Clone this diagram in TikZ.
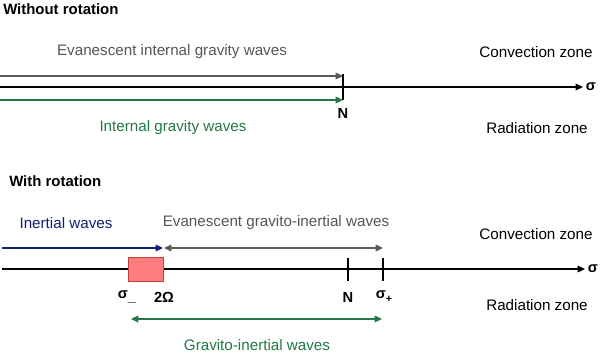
\documentclass[tikz,border=0pt]{standalone}
\usepackage{fontspec}
\setmainfont{Liberation Sans}
\usetikzlibrary{arrows.meta}
\definecolor{arrgray}{RGB}{90,90,90}
\definecolor{txtgray}{RGB}{85,85,85}
\definecolor{wgreen}{RGB}{35,120,70}
\definecolor{wblue}{RGB}{20,30,115}
\definecolor{rfill}{RGB}{255,125,125}
\definecolor{rdraw}{RGB}{205,60,60}
\begin{document}
\begin{tikzpicture}[x=0.75pt,y=-0.75pt,
  lbl/.style={font=\fontsize{11.4}{13}\selectfont,inner sep=0pt,anchor=center},
  ttl/.style={font=\fontsize{11.2}{13}\selectfont\bfseries,inner sep=0pt,anchor=west},
  tick/.style={font=\fontsize{11}{13}\selectfont\bfseries,inner sep=0pt,anchor=center},
  tip/.style={-{Triangle[length=5.5pt,width=5pt]}},
  dtip/.style={{Triangle[length=5.5pt,width=5pt]}-{Triangle[length=5.5pt,width=5pt]}},
  axisline/.style={line width=0.8pt,black},
  wline/.style={line width=0.9pt}]
\useasboundingbox (0,0) rectangle (600,353);
% ---------- Without rotation ----------
\node[ttl] (t1) at (3,9) {Without rotation};
\node[lbl,text=txtgray] (eigw) at (172,52) {Evanescent internal gravity waves};
\node[lbl] (cz1) at (536,52) {Convection zone};
\node[lbl,text=wgreen] (igw) at (173,128) {Internal gravity waves};
\node[lbl] (rz1) at (537,128) {Radiation zone};
\coordinate (g1s) at (0,76);
\coordinate (g1e) at (343,76);
\coordinate (a1s) at (0,87);
\coordinate (a1e) at (583,87);
\coordinate (gr1s) at (0,100);
\coordinate (gr1e) at (343,100);
\coordinate (n1t) at (343,74);
\coordinate (n1b) at (343,100);
\node[tick] (sig1) at (591,87) {σ};
\node[tick] (N1) at (343,113) {N};
\draw[axisline,tip] (a1s) -- (a1e);
\draw[wline,arrgray,tip] (g1s) -- (g1e);
\draw[wline,wgreen,tip] (gr1s) -- (gr1e);
\draw[axisline] (n1t) -- (n1b);
% ---------- With rotation ----------
\node[ttl] (t2) at (9,181) {With rotation};
\node[lbl,text=wblue] (iw) at (66,223) {Inertial waves};
\node[lbl,text=txtgray] (egiw) at (276,223) {Evanescent gravito-inertial waves};
\node[lbl] (cz2) at (536,234) {Convection zone};
\node[lbl] (rz2) at (537,305) {Radiation zone};
\node[lbl,text=wgreen] (giw) at (257,345) {Gravito-inertial waves};
\coordinate (a2s) at (2,269);
\coordinate (a2e) at (585,269);
\draw[axisline,tip] (a2s) -- (a2e);
\node[draw=rdraw,fill=rfill,line width=0.6pt,minimum width=26.25pt,minimum height=18pt,inner sep=0pt] (box) at (146,269) {};
\coordinate (bls) at (2,248);
\coordinate (ble) at (163,248);
\coordinate (grs) at (164,248);
\coordinate (gre) at (383,248);
\coordinate (n2t) at (348,258);
\coordinate (n2b) at (348,281);
\coordinate (sp2t) at (383,258);
\coordinate (sp2b) at (383,281);
\coordinate (gis) at (131,319);
\coordinate (gie) at (382,319);
\draw[wline,wblue,tip] (bls) -- (ble);
\draw[wline,arrgray,dtip] (grs) -- (gre);
\draw[axisline] (n2t) -- (n2b);
\draw[axisline] (sp2t) -- (sp2b);
\draw[wline,wgreen,dtip] (gis) -- (gie);
\node[tick] (sig2) at (593,269) {σ};
\node[tick] (sm) at (127,297) {σ\raisebox{-2pt}{\_}};
\node[tick] (tw) at (164,297) {2Ω};
\node[tick] (N2) at (348,297) {N};
\node[tick] (sp) at (384,297) {σ\raisebox{-3pt}{\fontsize{8}{9}\selectfont +}};
\end{tikzpicture}
\end{document}
